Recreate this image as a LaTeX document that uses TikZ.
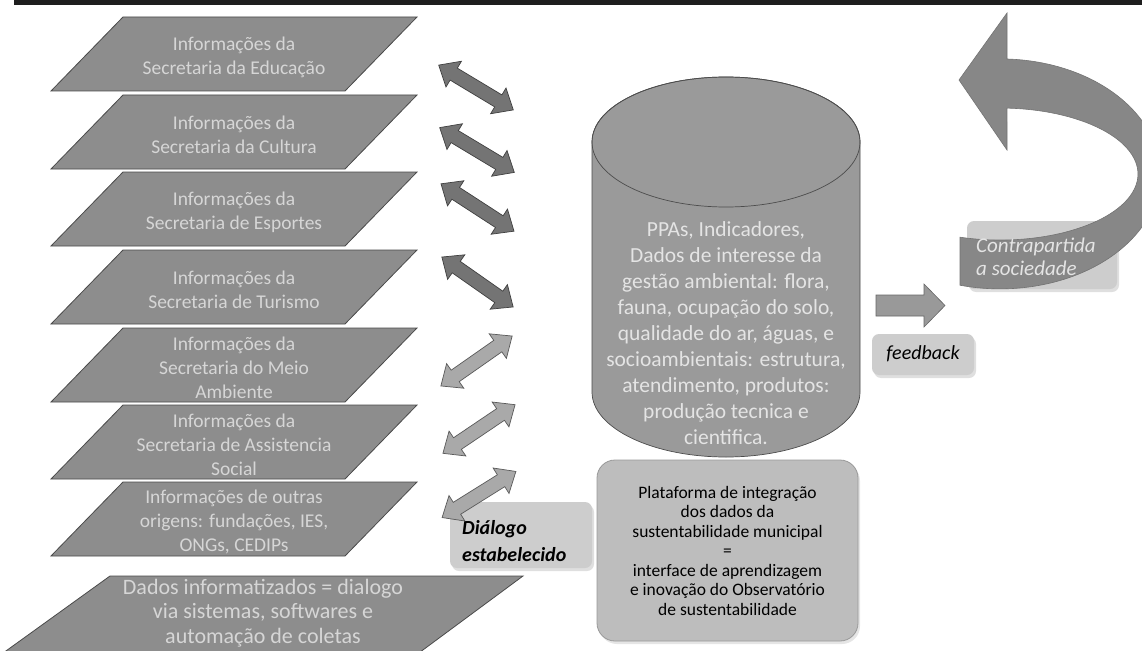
\documentclass[tikz,border=0pt]{standalone}
\usepackage{fontspec}
\setmainfont{Carlito}
\usetikzlibrary{shadows}
\definecolor{parafill}{HTML}{8D8D8D}
\definecolor{paraline}{HTML}{4A4A4A}
\definecolor{paratxt}{HTML}{D6D6D6}
\definecolor{darkarr}{HTML}{747474}
\definecolor{lightarr}{HTML}{A9A9A9}
\definecolor{cylfill}{HTML}{9A9A9A}
\definecolor{cyltxt}{HTML}{E4E4E4}
\definecolor{boxfill}{HTML}{BDBDBD}
\definecolor{lblfill}{HTML}{CDCDCD}
\definecolor{curvefill}{HTML}{878787}
\definecolor{fbfill}{HTML}{999999}
\definecolor{barblack}{HTML}{1E1E1E}
\tikzset{
  parashape/.style={fill=parafill, draw=paraline, line width=0.8pt},
  paratext/.style={font=\fontsize{19.5}{24}\selectfont, text=paratxt, align=center, inner sep=0pt},
  bigtext/.style={font=\fontsize{22}{24.5}\selectfont, text=paratxt, align=center, inner sep=0pt},
  darkdbl/.style={fill=darkarr, draw=black!75, line width=0.7pt},
  lightdbl/.style={fill=lightarr, draw=black!65, line width=0.7pt},
  cylshape/.style={fill=cylfill, draw=black!70, line width=0.7pt},
  cylline/.style={draw=black!70, line width=0.7pt},
  cyltext/.style={font=\fontsize{21.5}{26}\selectfont, text=cyltxt, align=center, inner sep=0pt},
  lblbox/.style={fill=lblfill, rounded corners=7pt, inner sep=0pt,
    drop shadow={opacity=0.25, shadow xshift=2pt, shadow yshift=-3pt}},
  platbox/.style={fill=boxfill, draw=black!40, line width=0.8pt, rounded corners=18pt,
    align=center, inner sep=0pt, font=\fontsize{17.5}{19.5}\selectfont,
    drop shadow={opacity=0.2, shadow xshift=2pt, shadow yshift=-3pt}},
  dlgtext/.style={font=\fontsize{20}{27}\selectfont\bfseries\itshape, align=left, inner sep=0pt},
  fbtext/.style={font=\fontsize{20}{24}\selectfont\itshape, inner sep=0pt},
  ctrtext/.style={font=\fontsize{21}{23}\selectfont\itshape, text=cyltxt, align=left, inner sep=0pt},
  curvearrow/.style={fill=curvefill, draw=black!55, line width=0.6pt},
  fbarrow/.style={fill=fbfill, draw=black!60, line width=0.6pt}
}
\newcommand{\infopara}[3]{%
  \filldraw[parashape] (123,#1) -- (417,#1) -- (345,#1+74) -- (51,#1+74) -- cycle;
  \node[paratext] (#2) at (234,#1+40) {#3};}
\newcommand{\dblarrow}[4]{%
  \begin{scope}[shift={#2}, rotate=#3]
    \filldraw[#4] (-43.5,0) -- (-26,-15) -- (-26,-7) -- (26,-7) -- (26,-15) -- (43.5,0)
      -- (26,15) -- (26,7) -- (-26,7) -- (-26,15) -- cycle;
    \coordinate (#1) at (0,0);
  \end{scope}}
\begin{document}
\begin{tikzpicture}[x=1pt,y=-1pt]
\useasboundingbox (0,0) rectangle (1142,650);
\clip (0,0) rectangle (1142,650);
\fill[white] (0,0) rectangle (1142,650);
\fill[barblack] (14,0) rectangle (1142,5);

% parallelograms
\infopara{17}{p1}{Informações da\\Secretaria da Educação}
\infopara{95}{p2}{Informações da\\Secretaria da Cultura}
\infopara{172}{p3}{Informações da\\Secretaria de Esportes}
\infopara{250}{p4}{Informações da\\Secretaria de Turismo}
\infopara{328}{p5}{Informações da\\Secretaria do Meio\\Ambiente}
\infopara{405}{p6}{Informações da\\Secretaria de Assistencia\\Social}
\infopara{482}{p7}{Informações de outras\\origens: fundações, IES,\\ONGs, CEDIPs}
\filldraw[parashape] (110,576) -- (523,576) -- (408,661) -- (-8,661) -- cycle;
\node[bigtext] (p8) at (263,613) {Dados informatizados = dialogo\\via sistemas, softwares e\\automação de coletas};

% dialog label
\node[lblbox, minimum width=142pt, minimum height=66pt] (dlgbox) at (521,535) {};
\node[dlgtext, anchor=west] (dlg) at (462,541) {Diálogo\\estabelecido};

% double arrows
\dblarrow{a1}{(476,87.5)}{-31}{darkdbl}
\dblarrow{a2}{(477,150)}{-31}{darkdbl}
\dblarrow{a3}{(477.5,207.5)}{-33}{darkdbl}
\dblarrow{a4}{(477.5,282)}{-35}{darkdbl}
\dblarrow{a5}{(476.5,361)}{35}{lightdbl}
\dblarrow{a6}{(479,429)}{34}{lightdbl}
\dblarrow{a7}{(479,494.5)}{32}{lightdbl}

% cylinder
\filldraw[cylshape] (592,142) -- (592,392) arc[start angle=180, end angle=0, x radius=134, y radius=65]
  -- (860,142) arc[start angle=0, end angle=-180, x radius=134, y radius=65] -- cycle;
\draw[cylline] (726,142) ellipse [x radius=134, y radius=65];
\node[cyltext] (cyl) at (726,333) {PPAs, Indicadores,\\Dados de interesse da\\gestão ambiental: flora,\\fauna, ocupação do solo,\\qualidade do ar, águas, e\\socioambientais: estrutura,\\atendimento, produtos:\\produção tecnica e\\cientifica.};

% platform box
\node[platbox, minimum width=261pt, minimum height=181pt] (plat) at (727.5,550.5)
  {Plataforma de integração\\dos dados da\\sustentabilidade municipal\\=\\interface de aprendizagem\\e inovação do Observatório\\de sustentabilidade};

% feedback arrow and label
\filldraw[fbarrow] (876,295) -- (924,295) -- (924,284) -- (945,305.5) -- (924,327) -- (924,316) -- (876,316) -- cycle;
\node[lblbox, minimum width=102pt, minimum height=41pt] (fbbox) at (923,354.5) {};
\node[fbtext] (fb) at (923,354) {feedback};

% contrapartida
\node[lblbox, minimum width=150pt, minimum height=68pt] (cbox) at (1042,255) {};
\filldraw[curvearrow] (959,80) -- (1007,13) -- (1007,59)
  arc[start angle=-87.5, end angle=104.48, x radius=160, y radius=115]
  -- (960,237.2)
  arc[start angle=106.85, end angle=-87.1, x radius=138, y radius=66]
  -- (1007,150) -- cycle;
\node[ctrtext, anchor=west] (ctr) at (976,257) {Contrapartida\\a sociedade};
\end{tikzpicture}
\end{document}
